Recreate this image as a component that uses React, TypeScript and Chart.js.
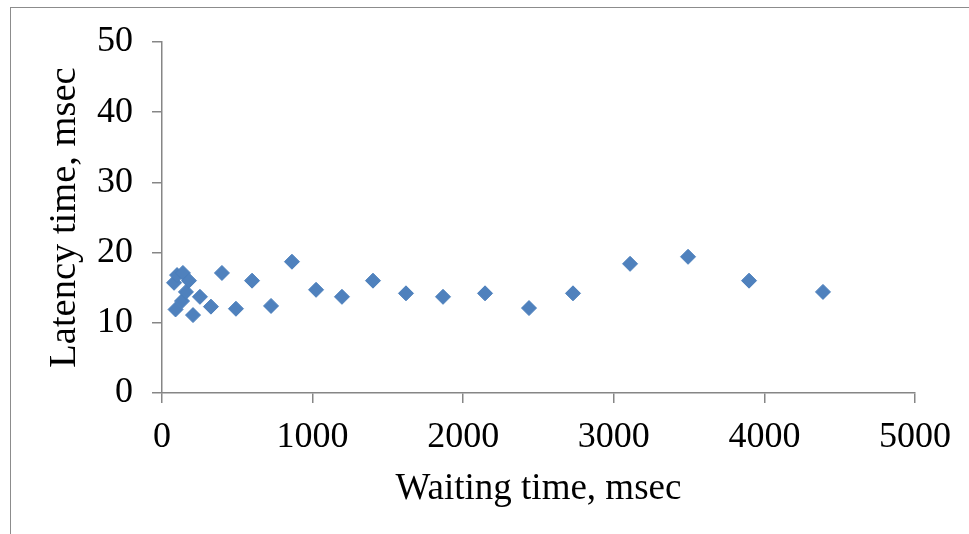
import React, { useEffect, useRef } from "react";
import { Chart, registerables } from "chart.js";

Chart.register(...registerables);

const waitingTimes = [80, 90, 100, 133, 139, 159, 179, 206, 252, 325, 398, 491, 598, 724, 863, 1023, 1195, 1401, 1620, 1866, 2145, 2437, 2729, 3108, 3493, 3898, 4389];
const latencyTimes = [15.7, 11.9, 16.8, 13.1, 17.1, 14.4, 16.0, 11.1, 13.7, 12.3, 17.1, 12.0, 16.0, 12.4, 18.7, 14.7, 13.7, 16.0, 14.2, 13.7, 14.2, 12.1, 14.2, 18.4, 19.4, 16.0, 14.4];
const xTitle = "Waiting time, msec";
const yTitle = "Latency time, msec";

const FONT = "'Liberation Serif', 'Times New Roman', serif";
const AXIS = "#868686";

export default function App() {
  const ref = useRef<HTMLCanvasElement | null>(null);
  useEffect(() => {
    if (!ref.current) return;
    const chart = new Chart(ref.current, {
      type: "scatter",
      data: {
        datasets: [
          {
            data: waitingTimes.map((x, i) => ({ x, y: latencyTimes[i] })),
            pointStyle: "rectRot",
            pointRadius: 7.5,
            pointHoverRadius: 7.5,
            backgroundColor: "#4F81BD",
            borderColor: "#4A7EBB",
            borderWidth: 1,
          },
        ],
      },
      options: {
        responsive: false,
        animation: false,
        events: [],
        layout: { padding: { top: 42, right: 54, left: 0, bottom: 0 } },
        plugins: { legend: { display: false }, tooltip: { enabled: false } },
        scales: {
          x: {
            type: "linear",
            min: 0,
            max: 5000,
            afterFit: (s: any) => { s.height = 141; },
            ticks: { stepSize: 1000, color: "#000", padding: 13, font: { family: FONT, size: 36 }, maxRotation: 0, callback: (v: any) => String(v) },
            grid: { drawOnChartArea: false, drawTicks: true, tickLength: 10, color: AXIS, lineWidth: 1.5 },
            border: { display: true, color: AXIS, width: 1.5 },
            title: { display: true, text: xTitle, color: "#000", font: { family: FONT, size: 37 }, padding: { top: 0, bottom: 23 } },
          },
          y: {
            type: "linear",
            min: 0,
            max: 50,
            afterFit: (s: any) => { s.width = 162; },
            ticks: { stepSize: 10, color: "#000", padding: 19, font: { family: FONT, size: 36 }, callback: (v: any) => String(v) },
            grid: { drawOnChartArea: false, drawTicks: true, tickLength: 10, color: AXIS, lineWidth: 1.5 },
            border: { display: true, color: AXIS, width: 1.5 },
            title: { display: true, text: yTitle, color: "#000", font: { family: FONT, size: 38.5 }, padding: { top: 42, bottom: 0 } },
          },
        },
      },
    });
    return () => chart.destroy();
  }, []);
  return (
    <div style={{ position: "fixed", left: 0, top: 0, width: 969, height: 534, background: "#fff", overflow: "hidden" }}>
      <div style={{ position: "absolute", left: 10, top: 7, width: 1000, height: 600, border: "1px solid #8C8C8C" }} />
      <canvas ref={ref} width={969} height={534} style={{ position: "absolute", left: 0, top: 0, display: "block" }} />
    </div>
  );
}
